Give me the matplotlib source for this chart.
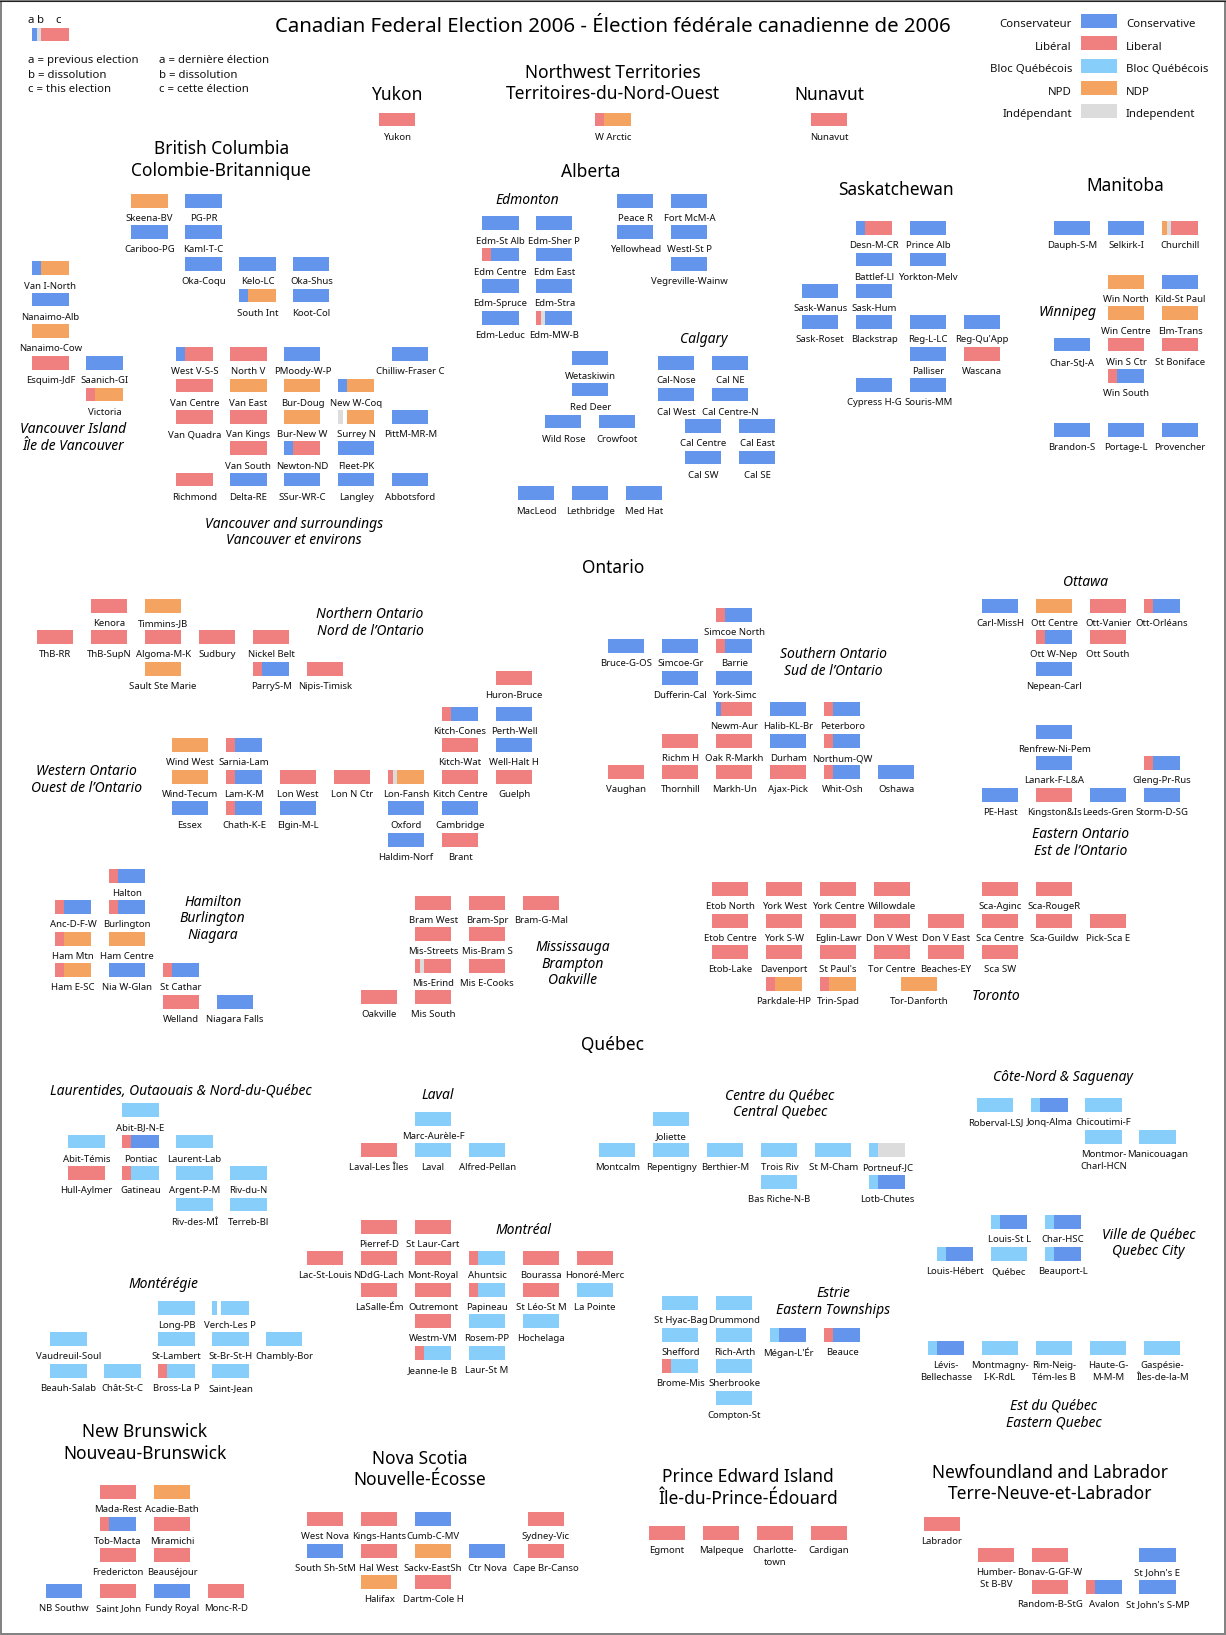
import matplotlib
matplotlib.use("Agg")
import matplotlib.pyplot as plt
from matplotlib.patches import Rectangle

FONT = "Noto Sans"
W, H = 1226, 1635

PARTY_COLORS = {"C": "#6495ED", "L": "#F08080", "B": "#87CEFA", "N": "#F4A460", "I": "#DCDCDC"}
PARTY_FR = ["Conservateur", "Libéral", "Bloc Québécois", "NPD", "Indépendant"]
PARTY_EN = ["Conservative", "Liberal", "Bloc Québécois", "NDP", "Independent"]
PARTY_KEYS = ["C", "L", "B", "N", "I"]

# results: previous election, dissolution, this election ("V" = vacant)
TERR_NAMES = ["Yukon", "W Arctic", "Nunavut"]
TERR_RESULTS = ["LLL", "LLN", "LLL"]
TERR_X = [379, 595, 811]
TERR_Y = [112.8, 112.8, 112.8]

BC_NAMES = ["Skeena-BV", "PG-PR", "Cariboo-PG", "Kaml-T-C", "Oka-Coqu", "Kelo-LC", "Oka-Shus", "South Int", "Koot-Col",
            "Van I-North", "Nanaimo-Alb", "Nanaimo-Cow", "Esquim-JdF", "Saanich-GI", "Victoria",
            "West V-S-S", "North V", "PMoody-W-P", "Chilliw-Fraser C",
            "Van Centre", "Van East", "Bur-Doug", "New W-Coq",
            "Van Quadra", "Van Kings", "Bur-New W", "Surrey N", "PittM-MR-M",
            "Van South", "Newton-ND", "Fleet-PK",
            "Richmond", "Delta-RE", "SSur-WR-C", "Langley", "Abbotsford"]
BC_RESULTS = ["NNN", "CCC", "CCC", "CCC", "CCC", "CCC", "CCC", "CCN", "CCC",
              "CCN", "CCC", "NNN", "LLL", "CCC", "LLN",
              "CCL", "LLL", "CCC", "CCC",
              "LLL", "NNN", "NNN", "CCN",
              "LLL", "LLL", "NNN", "IVN", "CCC",
              "LLL", "CCL", "CCC",
              "LLL", "CCC", "CCC", "CCC", "CCC"]
BC_X = [131.3, 185.3, 131.3, 185.3, 185.3, 239.3, 293.3, 239.3, 293.3,
        32.3, 32.3, 32.3, 32.3, 86.3, 86.3,
        176.3, 230.3, 284.3, 392.3,
        176.3, 230.3, 284.3, 338.3,
        176.3, 230.3, 284.3, 338.3, 392.3,
        230.3, 284.3, 338.3,
        176.3, 230.3, 284.3, 338.3, 392.3]
BC_Y = [193.9, 193.9, 225.3, 225.3, 257.1, 257.1, 257.1, 288.5, 288.5,
        261.4, 292.8, 324.3, 356, 356, 387.5,
        347.1, 347.1, 347.1, 347.1,
        378.5, 378.5, 378.5, 378.5,
        410, 410, 410, 410, 410,
        441.4, 441.4, 441.4,
        472.8, 472.8, 472.8, 472.8, 472.8]

AB_NAMES = ["Edm-St Alb", "Edm-Sher P", "Edm Centre", "Edm East", "Edm-Spruce", "Edm-Stra", "Edm-Leduc", "Edm-MW-B",
            "Peace R", "Fort McM-A", "Yellowhead", "Westl-St P", "Vegreville-Wainw",
            "Wetaskiwin", "Red Deer", "Wild Rose", "Crowfoot",
            "Cal-Nose", "Cal NE", "Cal West", "Cal Centre-N", "Cal Centre", "Cal East", "Cal SW", "Cal SE",
            "MacLeod", "Lethbridge", "Med Hat"]
AB_RESULTS = ["CCC", "CCC", "LLC", "CCC", "CCC", "CCC", "CCC", "LIC",
              "CCC", "CCC", "CCC", "CCC", "CCC",
              "CCC", "CCC", "CCC", "CCC",
              "CCC", "CCC", "CCC", "CCC", "CCC", "CCC", "CCC", "CCC",
              "CCC", "CCC", "CCC"]
AB_X = [482.3, 536.3, 482.3, 536.3, 482.3, 536.3, 482.3, 536.3,
        617.3, 671.3, 617.3, 671.3, 671.3,
        572.3, 572.3, 545.3, 599.3,
        658, 712, 658, 712, 685, 739, 685, 739,
        518.3, 572.3, 626.3]
AB_Y = [216.4, 216.4, 247.8, 247.8, 279.3, 279.3, 311, 311,
        193.9, 193.9, 225.3, 225.3, 257.1,
        351.4, 382.8, 414.6, 414.6,
        356, 356, 387.5, 387.5, 418.9, 418.9, 450.8, 450.8,
        486.4, 486.4, 486.4]

SK_NAMES = ["Desn-M-CR", "Prince Alb", "Battlef-Ll", "Yorkton-Melv", "Sask-Wanus", "Sask-Hum",
            "Sask-Roset", "Blackstrap", "Reg-L-LC", "Reg-Qu'App", "Palliser", "Wascana", "Cypress H-G", "Souris-MM"]
SK_RESULTS = ["CCL", "CCC", "CCC", "CCC", "CCC", "CCC", "CCC", "CCC", "CCC", "CCC", "CCC", "LLL", "CCC", "CCC"]
SK_X = [856, 910, 856, 910, 802, 856, 802, 856, 910, 964, 910, 964, 856, 910]
SK_Y = [221, 221, 252.5, 252.5, 283.9, 283.9, 315.3, 315.3, 315.3, 315.3, 347.1, 347.1, 378.2, 378.2]

MB_NAMES = ["Dauph-S-M", "Selkirk-I", "Churchill", "Win North", "Kild-St Paul", "Win Centre", "Elm-Trans",
            "Char-StJ-A", "Win S Ctr", "St Boniface", "Win South", "Brandon-S", "Portage-L", "Provencher"]
MB_RESULTS = ["CCC", "CCC", "NIL", "NNN", "CCC", "NNN", "NNN", "CCC", "LLL", "LLL", "LLC", "CCC", "CCC", "CCC"]
MB_X = [1054, 1108, 1162, 1108, 1162, 1108, 1162, 1054, 1108, 1162, 1108, 1054, 1108, 1162]
MB_Y = [221, 221, 221, 275, 275, 306.4, 306.4, 337.8, 337.8, 337.8, 369.3, 423.2, 423.2, 423.2]

NON_NAMES = ["Kenora", "Timmins-JB", "ThB-RR", "ThB-SupN", "Algoma-M-K", "Sudbury", "Nickel Belt",
             "Sault Ste Marie", "ParryS-M", "Nipis-Timisk"]
NON_RESULTS = ["LLL", "NNN", "LLL", "LLL", "LLL", "LLL", "LLL", "NNN", "LLC", "LLL"]
NON_X = [91, 145, 37, 91, 145, 199, 253, 145, 253, 307]
NON_Y = [599, 599, 630.3, 630.3, 630.3, 630.3, 630.3, 662, 662, 662]

WON_NAMES = ["Huron-Bruce", "Kitch-Cones", "Perth-Well", "Wind West", "Sarnia-Lam", "Kitch-Wat", "Well-Halt H",
             "Wind-Tecum", "Lam-K-M", "Lon West", "Lon N Ctr", "Lon-Fansh", "Kitch Centre", "Guelph",
             "Essex", "Chath-K-E", "Elgin-M-L", "Oxford", "Cambridge", "Haldim-Norf", "Brant"]
WON_RESULTS = ["LLL", "LLC", "CCC", "NNN", "LLC", "LLL", "CCC",
               "NNN", "LLC", "LLL", "LLL", "LIN", "LLL", "LLL",
               "CCC", "LLC", "CCC", "CCC", "CCC", "CCC", "LLL"]
WON_X = [496, 442, 496, 172, 226, 442, 496,
         172, 226, 280, 334, 388, 442, 496,
         172, 226, 280, 388, 442, 388, 442]
WON_Y = [671, 707, 707, 738.3, 738.3, 738.3, 738.3,
         770, 770, 770, 770, 770, 770, 770,
         801.3, 801.3, 801.3, 801.3, 801.3, 833, 833]

HAM_NAMES = ["Halton", "Anc-D-F-W", "Burlington", "Ham Mtn", "Ham Centre", "Ham E-SC", "Nia W-Glan", "St Cathar",
             "Welland", "Niagara Falls"]
HAM_RESULTS = ["LLC", "LLC", "LLC", "LLN", "NNN", "LLN", "CCC", "LLC", "LLL", "CCC"]
HAM_X = [109, 55, 109, 55, 109, 55, 109, 163, 163, 217]
HAM_Y = [869, 900.3, 900.3, 932, 932, 963.3, 963.3, 963.3, 995, 995]

MIS_NAMES = ["Bram West", "Bram-Spr", "Bram-G-Mal", "Mis-Streets", "Mis-Bram S", "Mis-Erind", "Mis E-Cooks",
             "Oakville", "Mis South"]
MIS_RESULTS = ["LLL", "LLL", "LLL", "LLL", "LLL", "LIL", "LLL", "LLL", "LLL"]
MIS_X = [415, 469, 523, 415, 469, 415, 469, 361, 415]
MIS_Y = [896, 896, 896, 927.3, 927.3, 959, 959, 990.3, 990.3]

SON_NAMES = ["Simcoe North", "Bruce-G-OS", "Simcoe-Gr", "Barrie", "Dufferin-Cal", "York-Simc",
             "Newm-Aur", "Halib-KL-Br", "Peterboro", "Richm H", "Oak R-Markh", "Durham", "Northum-QW",
             "Vaughan", "Thornhill", "Markh-Un", "Ajax-Pick", "Whit-Osh", "Oshawa"]
SON_RESULTS = ["LLC", "CCC", "CCC", "LLC", "CCC", "CCC", "CLL", "CCC", "LLC", "LLL", "LLL", "CCC", "LLC",
               "LLL", "LLL", "LLL", "LLL", "LLC", "CCC"]
SON_X = [716.3, 608.3, 662.3, 716.3, 662.3, 716.3, 716.3, 770.3, 824.3, 662.3, 716.3, 770.3, 824.3,
         608.3, 662.3, 716.3, 770.3, 824.3, 878.3]
SON_Y = [608, 639.3, 639.3, 639.3, 671, 671, 702.3, 702.3, 702.3, 734, 734, 734, 734,
         765.3, 765.3, 765.3, 765.3, 765.3, 765.3]

EON_NAMES = ["Carl-MissH", "Ott Centre", "Ott-Vanier", "Ott-Orléans", "Ott W-Nep", "Ott South", "Nepean-Carl",
             "Renfrew-Ni-Pem", "Lanark-F-L&A", "Gleng-Pr-Rus", "PE-Hast", "Kingston&Is", "Leeds-Gren", "Storm-D-SG"]
EON_RESULTS = ["CCC", "NNN", "LLL", "LLC", "LLC", "LLL", "CCC", "CCC", "CCC", "LLC", "CCC", "LLL", "CCC", "CCC"]
EON_X = [982, 1036, 1090, 1144, 1036, 1090, 1036, 1036, 1036, 1144, 982, 1036, 1090, 1144]
EON_Y = [599, 599, 599, 599, 630.3, 630.3, 662, 725, 756.3, 756.3, 788, 788, 788, 788]

TOR_NAMES = ["Etob North", "York West", "York Centre", "Willowdale", "Sca-Aginc", "Sca-RougeR",
             "Etob Centre", "York S-W", "Eglin-Lawr", "Don V West", "Don V East", "Sca Centre", "Sca-Guildw", "Pick-Sca E",
             "Etob-Lake", "Davenport", "St Paul's", "Tor Centre", "Beaches-EY", "Sca SW",
             "Parkdale-HP", "Trin-Spad", "Tor-Danforth"]
TOR_RESULTS = ["LLL"] * 20 + ["LLN", "LLN", "NNN"]
TOR_X = [712, 766, 820, 874, 982, 1036,
         712, 766, 820, 874, 928, 982, 1036, 1090,
         712, 766, 820, 874, 928, 982,
         766, 820, 901]
TOR_Y = [882.3] * 6 + [914] * 8 + [945.3] * 6 + [977] * 3

QLO_NAMES = ["Abit-BJ-N-E", "Abit-Témis", "Pontiac", "Laurent-Lab", "Hull-Aylmer", "Gatineau", "Argent-P-M", "Riv-du-N",
             "Riv-des-MÎ", "Terreb-Bl"]
QLO_RESULTS = ["BBB", "BBB", "LLC", "BBB", "LLL", "LLB", "BBB", "BBB", "BBB", "BBB"]
QLO_X = [122.3, 68.3, 122.3, 176.3, 68.3, 122.3, 176.3, 230.3, 176.3, 230.3]
QLO_Y = [1103, 1134.7, 1134.7, 1134.7, 1166, 1166, 1166, 1166, 1197.7, 1197.7]

MTG_NAMES = ["Long-PB", "Verch-Les P", "Vaudreuil-Soul", "St-Lambert", "St-Br-St-H", "Chambly-Bor",
             "Beauh-Salab", "Chât-St-C", "Bross-La P", "Saint-Jean"]
MTG_RESULTS = ["BBB", "BVB", "BBB", "BBB", "BBB", "BBB", "BBB", "BBB", "LLB", "BBB"]
MTG_X = [158.3, 212.3, 50.3, 158.3, 212.3, 266.3, 50.3, 104.3, 158.3, 212.3]
MTG_Y = [1301, 1301, 1332.3, 1332.3, 1332.3, 1332.3, 1364, 1364, 1364, 1364]

LAV_NAMES = ["Marc-Aurèle-F", "Laval-Les Îles", "Laval", "Alfred-Pellan"]
LAV_RESULTS = ["BBB", "LLL", "BBB", "BBB"]
LAV_X = [415, 361, 415, 469]
LAV_Y = [1112, 1143.3, 1143.3, 1143.3]

MTL_NAMES = ["Pierref-D", "St Laur-Cart", "Lac-St-Louis", "NDdG-Lach", "Mont-Royal", "Ahuntsic", "Bourassa", "Honoré-Merc",
             "LaSalle-Ém", "Outremont", "Papineau", "St Léo-St M", "La Pointe",
             "Westm-VM", "Rosem-PP", "Hochelaga", "Jeanne-le B", "Laur-St M"]
MTL_RESULTS = ["LLL", "LLL", "LLL", "LLL", "LLL", "LLB", "LLL", "LLL",
               "LLL", "LLL", "LLB", "LLL", "BBB",
               "LLL", "BBB", "BBB", "LLB", "BBB"]
MTL_X = [361, 415, 307, 361, 415, 469, 523, 577,
         361, 415, 469, 523, 577,
         415, 469, 523, 415, 469]
MTL_Y = [1220, 1220, 1251.3, 1251.3, 1251.3, 1251.3, 1251.3, 1251.3,
         1283, 1283, 1283, 1283, 1283,
         1314.3, 1314.3, 1314.3, 1346, 1346]

CQC_NAMES = ["Joliette", "Montcalm", "Repentigny", "Berthier-M", "Trois Riv", "St M-Cham", "Portneuf-JC",
             "Bas Riche-N-B", "Lotb-Chutes"]
CQC_RESULTS = ["BBB", "BBB", "BBB", "BBB", "BBB", "BBB", "BBI", "BBB", "BBC"]
CQC_X = [653.3, 599.3, 653.3, 707.3, 761.3, 815.3, 869.3, 761.3, 869.3]
CQC_Y = [1112, 1143.3, 1143.3, 1143.3, 1143.3, 1143.3, 1143.3, 1175, 1175]

EST_NAMES = ["St Hyac-Bag", "Drummond", "Shefford", "Rich-Arth", "Mégan-L'Ér", "Beauce", "Brome-Mis", "Sherbrooke", "Compton-St"]
EST_RESULTS = ["BBB", "BBB", "BBB", "BBB", "BBC", "LLC", "LLB", "BBB", "BBB"]
EST_X = [662.3, 716.3, 662.3, 716.3, 770.3, 824.3, 662.3, 716.3, 716.3]
EST_Y = [1296.3, 1296.3, 1328, 1328, 1328, 1328, 1359.3, 1359.3, 1391]

CNS_NAMES = ["Roberval-LSJ", "Jonq-Alma", "Chicoutimi-F", "Montmor-\nCharl-HCN", "Manicouagan"]
CNS_RESULTS = ["BBB", "BBC", "BBB", "BBB", "BBB"]
CNS_X = [977.3, 1031.3, 1085.3, 1085.3, 1139.3]
CNS_Y = [1098.3, 1098.3, 1098.3, 1130, 1130]

QCC_NAMES = ["Louis-St L", "Char-HSC", "Louis-Hébert", "Québec", "Beauport-L"]
QCC_RESULTS = ["BBC", "BBC", "BBC", "BBB", "BBC"]
QCC_X = [991, 1045, 937, 991, 1045]
QCC_Y = [1215.3, 1215.3, 1247, 1247, 1247]

EQC_NAMES = ["Lévis-\nBellechasse", "Montmagny-\nI-K-RdL", "Rim-Neig-\nTém-les B", "Haute-G-\nM-M-M", "Gaspésie-\nÎles-de-la-M"]
EQC_RESULTS = ["BBC", "BBB", "BBB", "BBB", "BBB"]
EQC_X = [928, 982, 1036, 1090, 1144]
EQC_Y = [1341.3] * 5

NB_NAMES = ["Mada-Rest", "Acadie-Bath", "Tob-Macta", "Miramichi", "Fredericton", "Beauséjour",
            "NB Southw", "Saint John", "Fundy Royal", "Monc-R-D"]
NB_RESULTS = ["LLL", "NNN", "LLC", "LLL", "LLL", "LLL", "CCC", "LLL", "CCC", "LLL"]
NB_X = [100, 154, 100, 154, 100, 154, 46, 100, 154, 208]
NB_Y = [1485.3, 1485.3, 1517, 1517, 1548.3, 1548.3, 1584, 1584, 1584, 1584]

NS_NAMES = ["West Nova", "Kings-Hants", "Cumb-C-MV", "Sydney-Vic", "South Sh-StM", "Hal West", "Sackv-EastSh", "Ctr Nova",
            "Cape Br-Canso", "Halifax", "Dartm-Cole H"]
NS_RESULTS = ["LLL", "LLL", "CCC", "LLL", "CCC", "LLL", "NNN", "CCC", "LLL", "NNN", "LLL"]
NS_X = [307, 361, 415, 527.5, 307, 361, 415, 469, 527.5, 361, 415]
NS_Y = [1512.3, 1512.3, 1512.3, 1512.3, 1544, 1544, 1544, 1544, 1544, 1575.3, 1575.3]

PEI_NAMES = ["Egmont", "Malpeque", "Charlotte-\ntown", "Cardigan"]
PEI_RESULTS = ["LLL", "LLL", "LLL", "LLL"]
PEI_X = [649, 703, 757, 811]
PEI_Y = [1526] * 4

NL_NAMES = ["Labrador", "Humber-\nSt B-BV", "Bonav-G-GF-W", "St John's E", "Random-B-StG", "Avalon", "St John's S-MP"]
NL_RESULTS = ["LLL", "LLL", "LLL", "CCC", "LLL", "LLC", "CCC"]
NL_X = [923.5, 977.7, 1031.5, 1139.4, 1031.5, 1085.6, 1139.4]
NL_Y = [1517, 1548.3, 1548.3, 1548.3, 1580, 1580, 1580]

REGIONS = [
    (TERR_NAMES, TERR_RESULTS, TERR_X, TERR_Y), (BC_NAMES, BC_RESULTS, BC_X, BC_Y),
    (AB_NAMES, AB_RESULTS, AB_X, AB_Y), (SK_NAMES, SK_RESULTS, SK_X, SK_Y), (MB_NAMES, MB_RESULTS, MB_X, MB_Y),
    (NON_NAMES, NON_RESULTS, NON_X, NON_Y), (WON_NAMES, WON_RESULTS, WON_X, WON_Y),
    (HAM_NAMES, HAM_RESULTS, HAM_X, HAM_Y), (MIS_NAMES, MIS_RESULTS, MIS_X, MIS_Y),
    (SON_NAMES, SON_RESULTS, SON_X, SON_Y), (EON_NAMES, EON_RESULTS, EON_X, EON_Y),
    (TOR_NAMES, TOR_RESULTS, TOR_X, TOR_Y), (QLO_NAMES, QLO_RESULTS, QLO_X, QLO_Y),
    (MTG_NAMES, MTG_RESULTS, MTG_X, MTG_Y), (LAV_NAMES, LAV_RESULTS, LAV_X, LAV_Y),
    (MTL_NAMES, MTL_RESULTS, MTL_X, MTL_Y), (CQC_NAMES, CQC_RESULTS, CQC_X, CQC_Y),
    (EST_NAMES, EST_RESULTS, EST_X, EST_Y), (CNS_NAMES, CNS_RESULTS, CNS_X, CNS_Y),
    (QCC_NAMES, QCC_RESULTS, QCC_X, QCC_Y), (EQC_NAMES, EQC_RESULTS, EQC_X, EQC_Y),
    (NB_NAMES, NB_RESULTS, NB_X, NB_Y), (NS_NAMES, NS_RESULTS, NS_X, NS_Y),
    (PEI_NAMES, PEI_RESULTS, PEI_X, PEI_Y), (NL_NAMES, NL_RESULTS, NL_X, NL_Y),
]

# headings: text, centre x, first-line y
PROVINCES = [("Yukon", 396.8, 92.9), ("Northwest Territories\nTerritoires-du-Nord-Ouest", 613, 70.7),
             ("Nunavut", 829, 93.2), ("British Columbia\nColombie-Britannique", 221.3, 147.1),
             ("Alberta", 590.3, 169.6), ("Saskatchewan", 896.3, 187.8), ("Manitoba", 1125.7, 183.5),
             ("Ontario", 613, 565.7), ("Québec", 613, 1042.7),
             ("New Brunswick\nNouveau-Brunswick", 145, 1430), ("Nova Scotia\nNouvelle-Écosse", 419.5, 1456.7),
             ("Prince Edward Island\nÎle-du-Prince-Édouard", 748.3, 1475),
             ("Newfoundland and Labrador\nTerre-Neuve-et-Labrador", 1049.7, 1470.7)]
SUBREGIONS = [("Edmonton", 527.7, 198.2), ("Calgary", 703.3, 337.8), ("Winnipeg", 1067.7, 310.7),
              ("Vancouver Island\nÎle de Vancouver", 73, 427.5), ("Vancouver and surroundings\nVancouver et environs", 293.7, 522.1),
              ("Northern Ontario\nNord de l’Ontario", 370, 612.3), ("Western Ontario\nOuest de l’Ontario", 86.7, 769.7),
              ("Hamilton\nBurlington\nNiagara", 212.7, 900), ("Mississauga\nBrampton\nOakville", 572.7, 945.3),
              ("Southern Ontario\nSud de l’Ontario", 833.7, 652.7), ("Ottawa", 1085.7, 580.7),
              ("Eastern Ontario\nEst de l’Ontario", 1081, 832.7), ("Toronto", 996, 994.7),
              ("Laurentides, Outaouais & Nord-du-Québec", 181, 1089.3), ("Laval", 437.3, 1093.7),
              ("Centre du Québec\nCentral Quebec", 779.7, 1093.7), ("Côte-Nord & Saguenay", 1063.3, 1075.7),
              ("Ville de Québec\nQuebec City", 1148.7, 1233), ("Montérégie", 163, 1282.7), ("Montréal", 523, 1228.7),
              ("Estrie\nEastern Townships", 833.5, 1291.7), ("Est du Québec\nEastern Quebec", 1053.7, 1404.3)]
KEY_LINES_EN = ["a = previous election", "b = dissolution", "c = this election"]
KEY_LINES_FR = ["a = dernière élection", "b = dissolution", "c = cette élection"]
TITLE = "Canadian Federal Election 2006 - Élection fédérale canadienne de 2006"

TILE_W = 36.2
TILE_H = 13.6
SEG = [0.125, 0.125, 0.75]
RIDING_PT, PROV_PT, SUB_PT, KEY_PT, TITLE_PT = 6.9, 12.5, 10.0, 8.2, 14.7

fig = plt.figure(figsize=(W / 100, H / 100), dpi=100, facecolor="white")
ax = fig.add_axes([0, 0, 1, 1])
ax.set_xlim(0, W)
ax.set_ylim(H, 0)
ax.axis("off")


def tile(x, top, code):
    left = x
    for c, s in zip(code, SEG):
        w = TILE_W * s
        if c in PARTY_COLORS:
            ax.barh(top + TILE_H / 2, w, left=left, height=TILE_H, color=PARTY_COLORS[c], linewidth=0)
        left += w


def lines(text, x, y, size, gap, style="normal", color="#111111"):
    for i, line in enumerate(text.split("\n")):
        ax.text(x, y + i * gap, line, fontsize=size, fontstyle=style, family=FONT, color=color,
                ha="center", va="center_baseline")


for names, results, xs, ys in REGIONS:
    assert len(names) == len(results) == len(xs) == len(ys), names[0]
    for name, code, x, y in zip(names, results, xs, ys):
        tile(x, y, code)
        lines(name, x + TILE_W / 2, y + 23.6, RIDING_PT, 12)

for text, x, y in PROVINCES:
    lines(text, x, y, PROV_PT, 21.5, color="black")
for text, x, y in SUBREGIONS:
    lines(text, x, y, SUB_PT, 16.7, style="italic", color="black")

ax.text(612.7, 24.3, TITLE, fontsize=TITLE_PT, family=FONT, ha="center", va="center_baseline", color="black")

# legend
for i, key in enumerate(PARTY_KEYS):
    top = 13.9 + 22.5 * i
    ax.barh(top + 7, 36, left=1081, height=14, color=PARTY_COLORS[key], linewidth=0)
    ax.text(1072, top + 9.3, PARTY_FR[i], fontsize=KEY_PT, family=FONT, ha="right", va="center_baseline", color="#111111")
    ax.text(1126, top + 9.3, PARTY_EN[i], fontsize=KEY_PT, family=FONT, ha="left", va="center_baseline", color="#111111")

tile(32.3, 27.5, "CIL")
for s, x in zip("abc", [31, 40, 58]):
    ax.text(x, 19, s, fontsize=KEY_PT, family=FONT, ha="center", va="center_baseline", color="#111111")
for i, (en, fr) in enumerate(zip(KEY_LINES_EN, KEY_LINES_FR)):
    y = 59.3 + 14.5 * i
    ax.text(28.3, y, en, fontsize=KEY_PT, family=FONT, ha="left", va="center_baseline", color="#111111")
    ax.text(158.7, y, fr, fontsize=KEY_PT, family=FONT, ha="left", va="center_baseline", color="#111111")

# frame
ax.add_patch(Rectangle((1, 1), W - 2, H - 2, fill=False, edgecolor="#808080", linewidth=1.4, clip_on=False))
ax.plot([0, W], [0.5, 0.5], color="#222222", linewidth=0.8)

fig.savefig("out.png", dpi=100, facecolor="white")
